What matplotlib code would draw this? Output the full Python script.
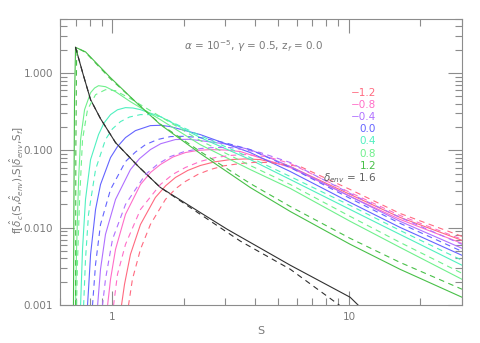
import matplotlib
matplotlib.use("Agg")
import matplotlib.pyplot as plt
from matplotlib.ticker import FixedLocator, NullFormatter

# ---------------- data ----------------
labels = ["-1.2", "-0.8", "-0.4", "0.0", "0.4", "0.8", "1.2", "1.6"]
colors = ["#ff6a80", "#ff6ec8", "#b070ff", "#6464ff", "#50f0c0", "#70f08c", "#48c048", "#303030"]

# solid curves
S_m12 = [1.091, 1.124, 1.191, 1.313, 1.518, 1.68, 1.845, 2.08, 2.35, 2.7, 3.15, 3.65, 4.21, 5.64, 10.1, 16.4, 30]
f_m12 = [0.00098, 0.00185, 0.00452, 0.0110, 0.0246, 0.035, 0.0446, 0.055, 0.0637, 0.071, 0.076, 0.0775, 0.076, 0.0618, 0.0269, 0.0136, 0.00686]
S_m08 = [0.953, 0.981, 1.030, 1.135, 1.313, 1.45, 1.594, 1.8, 2.032, 2.3, 2.59, 3.0, 3.47, 5.64, 10.1, 16.4, 30]
f_m08 = [0.00098, 0.00215, 0.00525, 0.0149, 0.0362, 0.052, 0.0656, 0.082, 0.0937, 0.100, 0.1023, 0.101, 0.0965, 0.060, 0.0254, 0.0128, 0.00627]
S_m04 = [0.865, 0.890, 0.934, 1.030, 1.191, 1.3, 1.446, 1.6, 1.845, 2.1, 2.35, 3.0, 3.82, 5.64, 10.1, 16.4, 30]
f_m04 = [0.00098, 0.0029, 0.00819, 0.0232, 0.0565, 0.078, 0.1023, 0.122, 0.138, 0.139, 0.1338, 0.121, 0.1023, 0.0618, 0.0254, 0.0121, 0.00541]
S_p00 = [0.784, 0.792, 0.808, 0.848, 0.890, 0.981, 1.05, 1.135, 1.25, 1.446, 1.6, 1.757, 2.35, 3.82, 5.64, 10.1, 16.4, 30]
f_p00 = [0.00098, 0.0016, 0.00452, 0.0172, 0.0362, 0.0807, 0.112, 0.1463, 0.180, 0.209, 0.211, 0.2028, 0.160, 0.0937, 0.0533, 0.0212, 0.0101, 0.00439]
S_p04 = [0.733, 0.747, 0.769, 0.808, 0.873, 0.92, 0.981, 1.05, 1.135, 1.22, 1.313, 1.594, 2.35, 3.82, 5.64, 10.1, 16.4, 30]
f_p04 = [0.00098, 0.00525, 0.0232, 0.076, 0.160, 0.225, 0.290, 0.335, 0.357, 0.353, 0.336, 0.273, 0.1463, 0.076, 0.042, 0.0172, 0.00819, 0.00327]
S_p08 = [0.698, 0.705, 0.719, 0.733, 0.762, 0.808, 0.84, 0.873, 0.934, 1.030, 1.191, 1.594, 2.35, 3.82, 5.64, 10.1, 16.4, 30]
f_p08 = [0.00098, 0.00525, 0.042, 0.138, 0.336, 0.557, 0.64, 0.686, 0.666, 0.574, 0.426, 0.2496, 0.1185, 0.0565, 0.0322, 0.0121, 0.00557, 0.00215]
S_p12 = [0.684, 0.687, 0.691, 0.698, 0.769, 0.981, 1.250, 1.594, 2.35, 3.82, 5.64, 10.1, 16.4, 30]
f_p12 = [0.00098, 0.02, 0.45, 2.15, 1.88, 0.87, 0.426, 0.215, 0.091, 0.0331, 0.0162, 0.0061, 0.0029, 0.00126]
S_p16 = [0.698, 0.75, 0.808, 0.890, 1.030, 1.287, 1.594, 2.35, 3.06, 5.64, 10.1, 11.3]
f_p16 = [2.15, 0.98, 0.452, 0.257, 0.126, 0.0618, 0.0331, 0.0157, 0.0095, 0.00327, 0.00126, 0.0009]

# dashed curves
Sd_m12 = [1.168, 1.214, 1.313, 1.446, 1.674, 1.85, 2.032, 2.3, 2.59, 2.95, 3.47, 4.0, 4.64, 6.21, 10.1, 16.4, 30]
fd_m12 = [0.00098, 0.00215, 0.00525, 0.0110, 0.0232, 0.032, 0.0396, 0.049, 0.0565, 0.063, 0.0676, 0.070, 0.0696, 0.0618, 0.0312, 0.0153, 0.00772]
Sd_m08 = [1.010, 1.050, 1.135, 1.313, 1.594, 1.8, 2.032, 2.35, 2.72, 3.15, 3.64, 4.5, 5.64, 10.1, 16.4, 30]
fd_m08 = [0.00098, 0.0025, 0.00609, 0.0172, 0.0362, 0.049, 0.060, 0.072, 0.0807, 0.086, 0.0882, 0.083, 0.0676, 0.0285, 0.0144, 0.00707]
Sd_m04 = [0.907, 0.934, 1.0, 1.135, 1.378, 1.55, 1.757, 2.0, 2.35, 2.7, 3.15, 4.2, 5.64, 10.1, 16.4, 30]
fd_m04 = [0.00098, 0.00215, 0.00707, 0.020, 0.0487, 0.066, 0.0832, 0.096, 0.1055, 0.109, 0.1087, 0.094, 0.0696, 0.0277, 0.0136, 0.00609]
Sd_p00 = [0.823, 0.848, 0.890, 0.981, 1.135, 1.25, 1.378, 1.55, 1.757, 2.0, 2.35, 3.0, 3.82, 5.64, 10.1, 16.4, 30]
fd_p00 = [0.00098, 0.00336, 0.0110, 0.0312, 0.0717, 0.095, 0.1185, 0.138, 0.1507, 0.152, 0.1463, 0.125, 0.1023, 0.060, 0.0239, 0.0114, 0.00494]
Sd_p04 = [0.755, 0.769, 0.792, 0.848, 0.934, 1.0, 1.081, 1.18, 1.313, 1.45, 1.594, 2.35, 3.82, 5.64, 10.1, 16.4, 30]
fd_p04 = [0.00098, 0.0039, 0.0149, 0.0565, 0.138, 0.19, 0.2355, 0.27, 0.290, 0.29, 0.273, 0.155, 0.0807, 0.0459, 0.0194, 0.00923, 0.00379]
Sd_p08 = [0.705, 0.712, 0.726, 0.747, 0.784, 0.848, 0.934, 1.030, 1.191, 1.594, 2.35, 3.82, 5.64, 10.1, 16.4, 30]
fd_p08 = [0.00098, 0.0039, 0.0232, 0.138, 0.336, 0.525, 0.609, 0.591, 0.466, 0.273, 0.1338, 0.0637, 0.0362, 0.0140, 0.00646, 0.00257]
Sd_p12 = [0.698, 0.700, 0.705, 0.712, 0.769, 0.981, 1.25, 1.594, 2.35, 3.82, 5.64, 10.1, 16.4, 30]
fd_p12 = [0.00098, 0.1, 1.48, 2.1, 1.85, 0.84, 0.426, 0.218, 0.0965, 0.0373, 0.0188, 0.00728, 0.00356, 0.0016]
Sd_p16 = [0.698, 0.75, 0.808, 0.890, 1.030, 1.287, 1.594, 2.35, 3.47, 5.64, 9.16]
fd_p16 = [2.15, 0.98, 0.452, 0.257, 0.126, 0.0618, 0.0331, 0.0149, 0.0067, 0.0029, 0.00098]

solid = [(S_m12, f_m12), (S_m08, f_m08), (S_m04, f_m04), (S_p00, f_p00),
         (S_p04, f_p04), (S_p08, f_p08), (S_p12, f_p12), (S_p16, f_p16)]
dashed = [(Sd_m12, fd_m12), (Sd_m08, fd_m08), (Sd_m04, fd_m04), (Sd_p00, fd_p00),
          (Sd_p04, fd_p04), (Sd_p08, fd_p08), (Sd_p12, fd_p12), (Sd_p16, fd_p16)]

xlim = (0.6, 30)
ylim = (0.001, 5.0)
ytick_vals = [0.001, 0.01, 0.1, 1.0]
ytick_labels = ["0.001", "0.010", "0.100", "1.000"]
xtick_vals = [1, 10]
xtick_labels = ["1", "10"]

# ---------------- figure ----------------
W, H = 480, 343
fig = plt.figure(figsize=(W / 100, H / 100), dpi=100)
ax = fig.add_axes([60 / W, 1 - 305 / H, 402 / W, 286 / H])
ax.set_xscale("log")
ax.set_yscale("log")

lw = 0.8
for (s, f), c in zip(solid, colors):
    ax.plot(s, f, color=c, lw=lw, solid_joinstyle="round")
for (s, f), c in zip(dashed, colors):
    ln, = ax.plot(s, f, color=c, lw=lw)
    ln.set_dashes([5, 4])

ax.set_xlim(*xlim)
ax.set_ylim(*ylim)

axc = "#8c8c8c"
for sp in ax.spines.values():
    sp.set_color(axc)
    sp.set_linewidth(0.8)

ax.xaxis.set_major_locator(FixedLocator(xtick_vals))
ax.set_xticklabels(xtick_labels)
ax.xaxis.set_minor_locator(FixedLocator([0.6, 0.7, 0.8, 0.9, 2, 3, 4, 5, 6, 7, 8, 9, 20, 30]))
ax.xaxis.set_minor_formatter(NullFormatter())
ax.yaxis.set_major_locator(FixedLocator(ytick_vals))
ax.set_yticklabels(ytick_labels)
ymin = []
for d in [0.001, 0.01, 0.1, 1.0]:
    for k in range(2, 10):
        if d * k <= 5.0:
            ymin.append(d * k)
ax.yaxis.set_minor_locator(FixedLocator(ymin))
ax.yaxis.set_minor_formatter(NullFormatter())

ax.tick_params(which="both", direction="in", top=True, right=True, color=axc,
               labelcolor="#7a7a7a", labelsize=7.5, width=0.8)
ax.tick_params(which="major", length=10, pad=5)
ax.tick_params(which="minor", length=5)

ax.set_xlabel("S", color="#7a7a7a", fontsize=8, labelpad=3)
fig.text(17 / W, 1 - 180 / H,
         r"f[$\hat{\delta}_c$(S,$\hat{\delta}_{env}$),S|$\hat{\delta}_{env}$,S$_f$]",
         rotation=90, ha="center", va="center", color="#7a7a7a", fontsize=7.5)

ax.text(0.4826, 0.906, r"$\alpha$ = 10$^{-5}$, $\gamma$ = 0.5, z$_f$ = 0.0",
        transform=ax.transAxes, ha="center", va="center", color="#7a7a7a", fontsize=7.5)

x_leg = (376 - 60) / 402
y0 = (305 - 92.7) / 286
dy = 12.2 / 286
for i, (lab, c) in enumerate(zip(labels, colors)):
    txt = lab.replace("-", "\u2212")
    if i == len(labels) - 1:
        txt = r"$\delta_{env}$ = " + txt
        c = "#606060"
    ax.text(x_leg, y0 - i * dy, txt, transform=ax.transAxes, ha="right", va="center",
            color=c, fontsize=7.5)

fig.savefig("out.png", dpi=100)
